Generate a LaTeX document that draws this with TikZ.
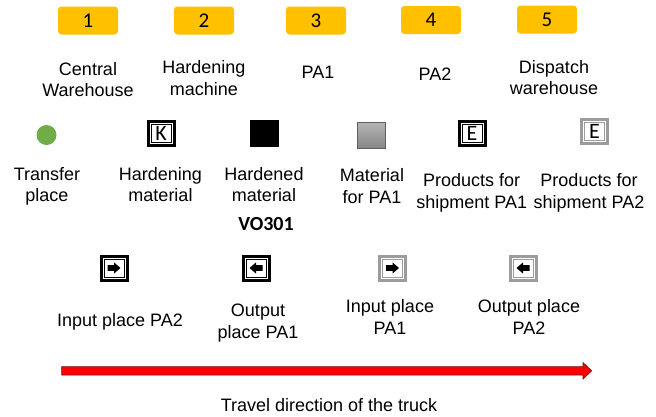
\documentclass[tikz,border=0pt]{standalone}
\usepackage{fontspec}
\setmainfont{Liberation Sans}
\newfontfamily\carlito{Carlito}
\usetikzlibrary{calc}
\definecolor{gold}{HTML}{FFC000}
\definecolor{leaf}{HTML}{70AD47}
\definecolor{framegray}{HTML}{9C9C9C}
\definecolor{squaregray}{HTML}{A8A8A8}
\definecolor{squareedge}{HTML}{5E5E5E}
\definecolor{arrowred}{HTML}{FF0000}
\definecolor{arrowedge}{HTML}{7A1010}
\begin{document}
\begin{tikzpicture}[x=1pt,y=-1pt,
  numbox/.style={fill=gold, rounded corners=3.5pt, minimum width=60pt, minimum height=28pt, inner sep=0pt,
    font=\carlito\fontsize{21}{24}\selectfont},
  lbl/.style={anchor=north, align=center, inner sep=0pt, font=\fontsize{18}{21.6}\selectfont},
  iconframe/.style={draw=#1, line width=3pt, fill=white, minimum width=26pt, minimum height=24pt, inner sep=0pt,
    font=\carlito\fontsize{22}{22}\selectfont,
    path picture={\draw[#1, line width=0.7pt]
      ([shift={(3pt,-3pt)}]path picture bounding box.north west) rectangle
      ([shift={(-3pt,3pt)}]path picture bounding box.south east);}},
  glyph/.style={fill=black}
]
\useasboundingbox (0,0) rectangle (656,416);

% numbered stations
\node[numbox] (n1) at (88,20.5) {1};
\node[numbox] (n2) at (204,20.5) {2};
\node[numbox] (n3) at (316,20.5) {3};
\node[numbox] (n4) at (431,20) {4};
\node[numbox] (n5) at (547,19.5) {5};

\node[lbl] (l1) at (88,62) {Central\\Warehouse};
\node[lbl] (l2) at (204,60.5) {Hardening\\machine};
\node[lbl] (l3) at (318,66) {PA1};
\node[lbl] (l4) at (435,68) {PA2};
\node[lbl] (l5) at (554,60) {Dispatch\\warehouse};

% symbols row
\node[circle, fill=leaf, minimum size=20pt, inner sep=0pt] (s1) at (46.5,135) {};
\node[iconframe=black] (s2) at (161,133) {K};
\node[fill=black, minimum width=29pt, minimum height=27pt, inner sep=0pt] (s3) at (264.5,133.5) {};
\node[draw=squareedge, line width=1pt, top color=squaregray!85!white, bottom color=squaregray!80!black,
      minimum width=28pt, minimum height=26pt, inner sep=0pt] (s4) at (371.5,135) {};
\node[iconframe=black] (s5) at (472,133.5) {E};
\node[iconframe=framegray] (s6) at (594.5,131.5) {E};

\node[lbl] (t1) at (47,167) {Transfer\\place};
\node[lbl] (t2) at (160.5,167) {Hardening\\material};
\node[lbl] (t3) at (264,167) {Hardened\\material};
\node[anchor=base, inner sep=0pt, font=\carlito\bfseries\fontsize{20}{24}\selectfont] (t3b) at (266,230) {VO301};
\node[lbl] (t4) at (372,168.5) {Material\\for PA1};
\node[lbl] (t5) at (471.7,173.5) {Products for\\shipment PA1};
\node[lbl] (t6) at (589,173.5) {Products for\\shipment PA2};

% input / output places
\node[iconframe=black] (p1) at (114,268) {};
\node[iconframe=black] (p2) at (256,268) {};
\node[iconframe=framegray] (p3) at (392.5,268) {};
\node[iconframe=framegray] (p4) at (523,268) {};

\fill[glyph] ($(p1.center)+(-6.5,-2.8)$) -- ++(6.5,0) -- ++(0,-2.8) -- ++(6.5,5.6) -- ++(-6.5,5.6) -- ++(0,-2.8) -- ++(-6.5,0) -- cycle;
\fill[glyph] ($(p2.center)+(6.5,-2.8)$) -- ++(-6.5,0) -- ++(0,-2.8) -- ++(-6.5,5.6) -- ++(6.5,5.6) -- ++(0,-2.8) -- ++(6.5,0) -- cycle;
\fill[glyph] ($(p3.center)+(-6.5,-2.8)$) -- ++(6.5,0) -- ++(0,-2.8) -- ++(6.5,5.6) -- ++(-6.5,5.6) -- ++(0,-2.8) -- ++(-6.5,0) -- cycle;
\fill[glyph] ($(p4.center)+(6.5,-2.8)$) -- ++(-6.5,0) -- ++(0,-2.8) -- ++(-6.5,5.6) -- ++(6.5,5.6) -- ++(0,-2.8) -- ++(6.5,0) -- cycle;

\node[lbl] (q1) at (120,313) {Input place PA2};
\node[lbl] (q2) at (258,303.7) {Output\\place PA1};
\node[lbl] (q3) at (390,299.7) {Input place\\PA1};
\node[lbl] (q4) at (529,299.7) {Output place\\PA2};

% travel direction arrow
\coordinate (tail) at (61.7,370.8);
\coordinate (tip) at (591.7,370.8);
\filldraw[fill=arrowred, draw=arrowedge, line width=0.7pt]
  ($(tail)+(0,-4.2)$) -- ($(tip)+(-8.7,-4.2)$) -- ($(tip)+(-8.7,-8.2)$) -- (tip)
  -- ($(tip)+(-8.7,8.2)$) -- ($(tip)+(-8.7,4.2)$) -- ($(tail)+(0,4.2)$) -- cycle;

\node[anchor=base, inner sep=0pt, font=\fontsize{18}{21.6}\selectfont] (cap) at (329,411) {Travel direction of the truck};
\end{tikzpicture}
\end{document}
